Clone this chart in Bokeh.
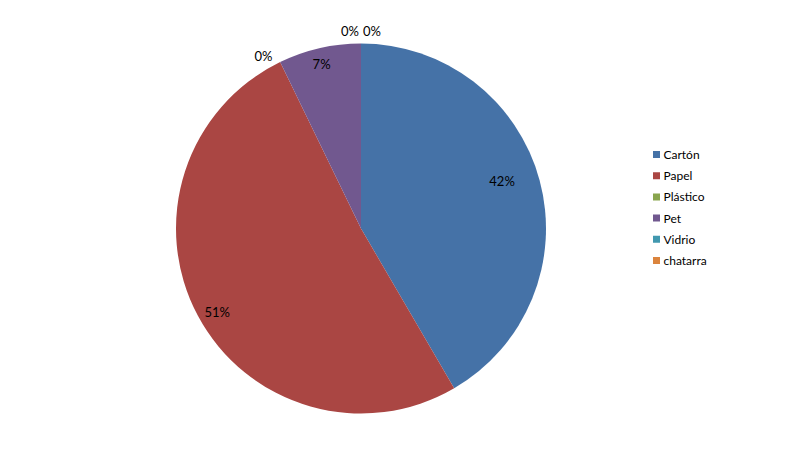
import math
from bokeh.plotting import figure
from bokeh.models import ColumnDataSource
from bokeh.core.properties import value
from bokeh.embed import file_html
from bokeh.resources import INLINE

categories = ["Cartón", "Papel", "Plástico", "Pet", "Vidrio", "chatarra"]
values = [41.6, 51.2, 0.0, 7.2, 0.0, 0.0]
colors = ["#4572A7", "#AA4643", "#89A54E", "#71588F", "#4198AF", "#DB843D"]

# label placement styling (radius factor, angle nudge in degrees clockwise, x nudge px)
label_r = [0.805, 0.9, 1.07, 0.915, 1.065, 1.065]
label_da = [-3.6, -2.2, -3.6, -0.5, 0.0, 0.0]
label_dx = [0, 0, 0, 0, -11, 11]

W, H = 781, 441
cx, cy, R = 360.5, 213.0, 185.0
FONT = "Lato"

total = sum(values)
starts, ends, wcol = [], [], []
lx, ly, texts = [], [], []
acc = 0.0
for i, v in enumerate(values):
    a0 = math.pi / 2 - 2 * math.pi * acc / total
    acc += v
    a1 = math.pi / 2 - 2 * math.pi * acc / total
    if v > 0:
        starts.append(a0)
        ends.append(a1)
        wcol.append(colors[i])
    mid = (a0 + a1) / 2 - math.radians(label_da[i])
    r = label_r[i] * R
    lx.append(cx + r * math.cos(mid) + label_dx[i])
    ly.append(cy + r * math.sin(mid))
    texts.append(f"{round(100 * v / total):.0f}%")

p = figure(width=W, height=H, x_range=(0, W), y_range=(0, H),
           output_backend="svg", toolbar_location=None, min_border=0)
p.axis.visible = False
p.grid.visible = False
p.outline_line_color = None
p.background_fill_color = "white"
p.border_fill_color = "white"

src = ColumnDataSource(dict(start=starts, end=ends, color=wcol))
p.wedge(x=cx, y=cy, radius=R, start_angle="start", end_angle="end",
        direction="clock", fill_color="color", line_color=None, source=src)

p.text(x=lx, y=ly, text=texts, text_align="center", text_baseline="middle",
       text_font=value(FONT), text_font_size="13px", text_color="#000000")

# legend
lgx, dy = 656.0, 21.2
ly_leg = [H - 154 - i * dy for i in range(len(categories))]
p.scatter(x=[lgx] * len(categories), y=ly_leg, marker="square", size=7,
          fill_color=colors, line_color=None)
p.text(x=[lgx + 7] * len(categories), y=ly_leg, text=categories,
       text_align="left", text_baseline="middle", text_font=value(FONT),
       text_font_size="12px", text_color="#000000")

open("out.html", "w").write(file_html(p, INLINE))
